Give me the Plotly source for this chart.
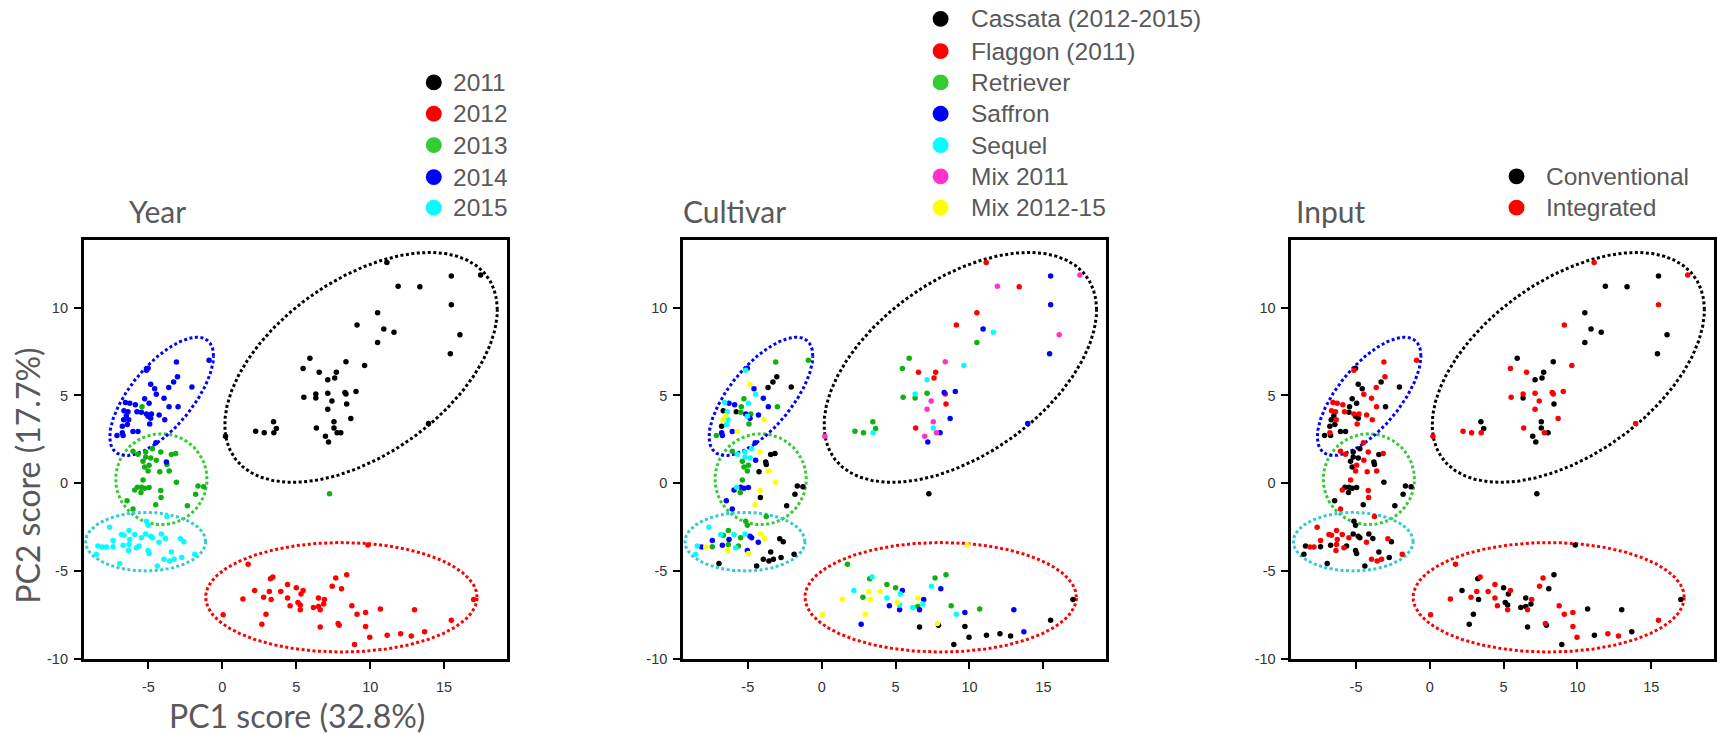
import numpy as np
import plotly.graph_objects as go

W, H = 1717, 734

# ---------------------------------------------------------------------------
# PCA scores (PC1, PC2) with year, cultivar and input system of each sample
# cultivar codes: Cas=Cassata, Fla=Flaggon, Ret=Retriever, Saf=Saffron,
#                 Seq=Sequel, M11=Mix 2011, M12=Mix 2012-15
# input codes:    C=Conventional, I=Integrated
# ---------------------------------------------------------------------------
pc1_2011 = [11.13, 15.49, 17.47, 11.89, 13.36, 15.49, 10.50, 9.11, 10.92, 11.61,
            16.07, 10.50, 15.42, 5.92, 9.62, 5.46, 8.36, 6.55, 7.71, 7.60,
            7.13, 9.04, 5.51, 6.32, 6.32, 7.13, 8.29, 8.36, 7.41, 8.41,
            7.13, 8.69, 3.46, 7.55, 3.65, 2.25, 2.83, 3.48, 6.36, 7.55,
            7.76, 8.01, 6.97, 7.18, 0.21, 13.94]
pc2_2011 = [12.58, 11.81, 11.87, 11.23, 11.19, 10.17, 9.71, 9.02, 8.79, 8.60,
            8.46, 8.02, 7.38, 7.12, 6.71, 6.54, 6.92, 6.33, 6.33, 6.00,
            5.90, 5.23, 4.90, 5.08, 4.85, 5.13, 5.17, 5.08, 4.69, 4.52,
            4.21, 3.69, 3.50, 3.50, 3.12, 2.96, 2.87, 2.87, 3.15, 3.15,
            2.88, 2.88, 2.67, 2.35, 2.67, 3.40]
cv_2011 = ["Fla", "Saf", "M11", "M11", "Fla", "Saf", "Fla", "Fla", "Saf", "Seq",
           "M11", "Ret", "Saf", "Ret", "Seq", "Ret", "M11", "Fla", "Fla", "Fla",
           "Seq", "Saf", "Ret", "Seq", "Ret", "Ret", "Saf", "Fla", "M11", "Fla",
           "M11", "Saf", "Ret", "M11", "Ret", "Ret", "Ret", "Seq", "Fla", "Seq",
           "M11", "Saf", "M11", "Saf", "M11", "Saf"]
in_2011 = ["I", "C", "I", "C", "C", "I", "C", "I", "C", "C",
           "C", "C", "C", "C", "I", "I", "C", "I", "C", "C",
           "C", "I", "I", "I", "C", "I", "I", "I", "I", "C",
           "I", "I", "C", "C", "C", "I", "I", "I", "I", "C",
           "I", "C", "C", "C", "I", "I"]

pc1_2012 = [9.85, 1.74, 3.41, 3.25, 8.41, 7.67, 4.41, 7.43, 5.00, 2.18,
            3.18, 3.95, 5.46, 8.06, 5.32, 1.39, 2.79, 3.30, 4.41, 6.50,
            6.90, 17.00, 5.11, 4.58, 5.27, 6.16, 6.50, 6.85, 5.27, 6.62,
            8.76, 10.69, 13.00, 0.05, 2.95, 9.11, 9.69, 2.67, 6.62, 7.83,
            7.90, 9.69, 15.49, 9.97, 11.15, 12.06, 12.78, 13.68, 8.94]
pc2_2012 = [-3.52, -4.62, -5.35, -5.44, -5.21, -5.40, -5.77, -5.87, -5.96, -6.12,
            -6.17, -6.17, -6.12, -6.02, -6.31, -6.60, -6.50, -6.63, -6.54, -6.54,
            -6.63, -6.63, -6.79, -6.98, -6.94, -7.08, -7.02, -6.88, -7.21, -7.21,
            -6.98, -7.17, -7.21, -7.50, -7.46, -7.46, -7.37, -8.04, -8.19, -8.00,
            -8.10, -8.17, -7.81, -8.77, -8.67, -8.58, -8.71, -8.46, -9.19]
cv_2012 = ["M12", "Ret", "Seq", "Ret", "Ret", "Ret", "Ret", "Seq", "Ret", "Seq",
           "M12", "M12", "Saf", "Saf", "Seq", "M12", "Ret", "M12", "Seq", "M12",
           "Saf", "Cas", "M12", "Saf", "Seq", "Seq", "Ret", "Seq", "Saf", "Saf",
           "Ret", "Ret", "Saf", "M12", "M12", "Seq", "Saf", "Saf", "Cas", "M12",
           "Cas", "Cas", "Cas", "Cas", "Cas", "Cas", "Cas", "Saf", "Cas"]
in_2012 = ["C", "I", "I", "C", "C", "I", "I", "I", "C", "C",
           "I", "I", "I", "C", "C", "I", "I", "C", "I", "C",
           "I", "C", "C", "I", "C", "C", "C", "C", "I", "I",
           "I", "C", "C", "I", "C", "I", "I", "C", "C", "I",
           "C", "I", "I", "I", "C", "I", "I", "C", "C"]

pc1_2013 = [-5.44, -6.05, -4.74, -4.17, -3.16, -5.19, -5.71, -5.19, -4.85, -4.47,
            -5.37, -3.45, -3.75, -4.96, -5.26, -5.03, -4.24, -3.11, -5.37, -5.48,
            -5.75, -5.26, -4.96, -5.93, -4.17, -5.51, -4.15, -1.65, -1.27, -1.81,
            -6.45, -4.51, -2.37, -6.05, -3.60, 7.25]
pc2_2013 = [4.36, 1.82, 1.97, 1.78, 1.69, 1.78, 1.65, 1.50, 1.44, 1.31,
            1.25, 1.63, 1.07, 1.03, 0.93, 0.69, 0.65, 0.05, 0.18, -0.23,
            -0.23, -0.29, -0.25, -0.38, -0.42, -0.53, -0.82, -0.16, -0.20, -0.63,
            -1.00, -1.23, -1.29, -1.47, 0.70, -0.60]
cv_2013 = ["Ret", "Ret", "Seq", "M12", "Cas", "Seq", "Seq", "Seq", "Seq", "Saf",
           "Ret", "Cas", "Cas", "Ret", "Ret", "Ret", "Cas", "M12", "Ret", "Saf",
           "Seq", "Saf", "Saf", "Saf", "M12", "Ret", "Cas", "Cas", "Cas", "Cas",
           "Saf", "M12", "Cas", "Saf", "M12", "Cas"]
in_2013 = ["C", "I", "C", "I", "I", "C", "I", "C", "C", "I",
           "C", "C", "C", "I", "C", "I", "I", "C", "I", "C",
           "C", "C", "C", "I", "I", "C", "I", "C", "C", "C",
           "C", "C", "C", "I", "I", "C"]

pc1_2014 = [-3.11, -0.90, -5.14, -5.03, -3.04, -3.30, -3.63, -4.85, -4.58, -4.47,
            -2.06, -3.95, -5.26, -6.56, -6.27, -5.89, -4.96, -3.61, -3.00, -6.66,
            -6.39, -5.78, -5.48, -5.14, -4.80, -4.85, -5.03, -6.50, -6.68, -6.34,
            -3.90, -4.92, -6.43, -6.77, -6.05, -5.71, -6.77, -6.72, -7.13, -3.79,
            -4.28, -4.50]
pc2_2014 = [6.91, 7.01, 6.44, 6.55, 6.07, 5.77, 5.45, 5.64, 5.39, 5.07,
            5.49, 4.84, 4.82, 4.60, 4.56, 4.47, 4.56, 4.36, 4.36, 4.13,
            4.07, 4.07, 4.04, 3.94, 3.94, 3.70, 3.81, 3.85, 3.62, 3.62,
            3.62, 3.38, 3.34, 3.25, 2.95, 2.95, 2.87, 2.72, 2.72, 1.21,
            3.89, 2.30]
cv_2014 = ["Ret", "Ret", "Seq", "Saf", "Cas", "Cas", "Cas", "M12", "Saf", "Seq",
           "Cas", "Saf", "Ret", "Seq", "Saf", "Saf", "Seq", "Saf", "Ret", "Cas",
           "Seq", "Cas", "Ret", "Saf", "Ret", "Saf", "Seq", "M12", "M12", "Seq",
           "M12", "Ret", "Seq", "Cas", "Saf", "M12", "Saf", "Saf", "Ret", "Cas",
           "Saf", "Saf"]
in_2014 = ["I", "I", "I", "C", "I", "C", "I", "C", "C", "I",
           "C", "I", "C", "I", "I", "I", "C", "I", "C", "I",
           "I", "I", "C", "I", "I", "C", "C", "C", "C", "I",
           "I", "I", "C", "C", "C", "C", "I", "C", "C", "C",
           "I", "I"]

pc1_2015 = [-3.75, -5.14, -5.03, -7.63, -6.32, -6.83, -6.66, -5.93, -5.19, -4.85,
            -4.74, -4.13, -5.48, -6.27, -7.40, -2.84, -2.60, -4.29, -8.42, -8.12,
            -7.85, -7.40, -6.32, -6.72, -5.64, -5.82, -5.03, -4.96, -6.36, -8.53,
            -3.45, -3.95, -3.57, -3.27, -1.87, -6.95, -4.40, -3.86, -2.75]
pc2_2015 = [-1.89, -2.17, -2.40, -2.51, -2.70, -2.92, -2.96, -2.92, -2.89, -3.02,
            -3.11, -2.89, -3.11, -3.21, -3.26, -3.17, -3.34, -3.36, -3.58, -3.64,
            -3.64, -3.62, -3.49, -3.54, -3.58, -3.68, -3.83, -4.01, -3.83, -4.05,
            -3.92, -4.33, -4.43, -4.33, -4.05, -4.58, -4.71, -3.15, -4.23]
cv_2015 = ["Ret", "Ret", "Ret", "Seq", "Ret", "Seq", "Ret", "Seq", "Seq", "Saf",
           "Saf", "M12", "Ret", "Saf", "Saf", "Cas", "Cas", "Saf", "Seq", "Saf",
           "M12", "Ret", "Ret", "Saf", "Ret", "Seq", "Saf", "M12", "M12", "Seq",
           "Cas", "Cas", "Cas", "Cas", "Cas", "Cas", "Cas", "M12", "Cas"]
in_2015 = ["I", "C", "C", "I", "I", "I", "I", "I", "C", "C",
           "C", "C", "I", "I", "I", "I", "C", "I", "C", "I",
           "I", "C", "I", "C", "C", "I", "C", "C", "I", "C",
           "C", "I", "I", "I", "I", "C", "C", "C", "C"]

# group ellipses drawn round each year (centre, half-extent on each axis,
# phase offset between the PC1 and PC2 components in degrees)
ell_year = ["2011", "2012", "2013", "2014", "2015"]
ell_cx = [9.38, 8.05, -4.13, -4.11, -5.19]
ell_cy = [6.60, -6.50, 0.23, 4.95, -3.33]
ell_rx = [9.22, 9.18, 3.09, 3.51, 4.06]
ell_ry = [6.55, 3.12, 2.59, 3.37, 1.67]
ell_phase = [60, 90, 90, 47, 90]
ell_color = ["#000000", "#ff0000", "#33cc33", "#0000ff", "#33cccc"]

# axis ticks
x_ticks = [-5, 0, 5, 10, 15]
x_tick_text = ["-5", "0", "5", "10", "15"]
y_ticks = [-10, -5, 0, 5, 10]
y_tick_text = ["-10", "-5", "0", "5", "10"]
x_range = [-9.37, 19.25]
y_range = [-10.03, 13.88]

# legend entries
year_labels = ["2011", "2012", "2013", "2014", "2015"]
year_point_colors = ["#000000", "#ff0000", "#10b010", "#0000ff", "#00ffff"]
year_key_colors = ["#000000", "#ff0000", "#33cc33", "#0000ff", "#00ffff"]

cv_codes = ["Cas", "Fla", "Ret", "Saf", "Seq", "M11", "M12"]
cv_labels = ["Cassata (2012-2015)", "Flaggon (2011)", "Retriever", "Saffron",
             "Sequel", "Mix 2011", "Mix 2012-15"]
cv_point_colors = ["#000000", "#ff0000", "#10b010", "#0000ff", "#00ffff",
                   "#ff33cc", "#ffff00"]
cv_key_colors = ["#000000", "#ff0000", "#33cc33", "#0000ff", "#00ffff",
                 "#ff33cc", "#ffff00"]

in_codes = ["C", "I"]
in_labels = ["Conventional", "Integrated"]
in_colors = ["#000000", "#ff0000"]

# ---------------------------------------------------------------------------
# assemble the long table
# ---------------------------------------------------------------------------
pc1_by_year = [pc1_2011, pc1_2012, pc1_2013, pc1_2014, pc1_2015]
pc2_by_year = [pc2_2011, pc2_2012, pc2_2013, pc2_2014, pc2_2015]
cv_by_year = [cv_2011, cv_2012, cv_2013, cv_2014, cv_2015]
in_by_year = [in_2011, in_2012, in_2013, in_2014, in_2015]

pc1, pc2, yr, cv, inp = [], [], [], [], []
for label, a, b, c, d in zip(year_labels, pc1_by_year, pc2_by_year, cv_by_year, in_by_year):
    pc1 += a
    pc2 += b
    yr += [label] * len(a)
    cv += c
    inp += d
pc1 = np.array(pc1)
pc2 = np.array(pc2)
yr = np.array(yr)
cv = np.array(cv)
inp = np.array(inp)

fig = go.Figure()

# plot-area boxes in pixels (left, right) and shared top/bottom
panel_x = [(84, 507.5), (684, 1107.5), (1293, 1716)]
panel_top, panel_bottom = 242.3, 666.5
axis_ids = [("x", "y"), ("x2", "y2"), ("x3", "y3")]

t = np.linspace(0, 2 * np.pi, 500)


def add_ellipses(xa, ya):
    for cx, cy, rx, ry, ph, col in zip(ell_cx, ell_cy, ell_rx, ell_ry, ell_phase, ell_color):
        ex = cx + rx * np.cos(t)
        ey = cy + ry * np.cos(t - np.deg2rad(ph))
        fig.add_trace(go.Scatter(
            x=ex, y=ey, mode="lines", xaxis=xa, yaxis=ya, hoverinfo="skip",
            line=dict(color=col, width=3, dash="3px,2.5px"), showlegend=False))


def add_points(xa, ya, groups, codes, colors):
    for code, col in zip(codes, colors):
        m = groups == code
        fig.add_trace(go.Scatter(
            x=pc1[m], y=pc2[m], mode="markers", xaxis=xa, yaxis=ya,
            marker=dict(color=col, size=5.5, line=dict(width=0)),
            showlegend=False))


for xa, ya in axis_ids:
    add_ellipses(xa, ya)

add_points("x", "y", yr, year_labels, year_point_colors)
add_points("x2", "y2", cv, cv_codes, cv_point_colors)
add_points("x3", "y3", inp, in_codes, in_colors)

axis_style = dict(
    showline=True, linecolor="black", linewidth=3, mirror=True,
    ticks="outside", ticklen=7, tickwidth=1.5, tickcolor="black",
    showgrid=False, zeroline=False, fixedrange=True,
    tickfont=dict(family="Liberation Sans, Arial", size=14.5, color="#333333"),
)

layout_axes = {}
for i, ((l, r), (xa, ya)) in enumerate(zip(panel_x, axis_ids)):
    xk = "xaxis" if i == 0 else f"xaxis{i + 1}"
    yk = "yaxis" if i == 0 else f"yaxis{i + 1}"
    layout_axes[xk] = dict(axis_style, domain=[l / W, r / W], range=x_range,
                           tickvals=x_ticks, ticktext=x_tick_text, anchor=ya,
                           ticklabelstandoff=5)
    layout_axes[yk] = dict(axis_style, domain=[1 - panel_bottom / H, 1 - panel_top / H],
                           range=y_range, tickvals=y_ticks, ticktext=y_tick_text,
                           anchor=xa, ticklabelstandoff=3)

title_font = dict(family="Lato, Open Sans, sans-serif", color="#595959")
legend_font = dict(family="Liberation Sans, Arial", size=24.5, color="#595959")

annotations = []
shapes = []


def px_x(v):
    return v / W


def px_y(v):
    return 1 - v / H


# panel headings
for text, left in zip(["Year", "Cultivar", "Input"], [127, 682, 1296]):
    annotations.append(dict(text=text, x=px_x(left), y=px_y(213), xref="paper", yref="paper",
                            xanchor="left", yanchor="middle", showarrow=False,
                            font=dict(title_font, size=30)))

# axis titles
annotations.append(dict(text="PC1 score (32.8%)", x=px_x(297), y=px_y(723), xref="paper",
                        yref="paper", xanchor="center", yanchor="middle", showarrow=False,
                        borderpad=0, font=dict(title_font, size=32)))
annotations.append(dict(text="PC2 score (17.7%)", x=px_x(28), y=px_y(481), xref="paper",
                        yref="paper", xanchor="center", yanchor="middle", showarrow=False,
                        textangle=-90, font=dict(title_font, size=32)))


def add_key(labels, colors, dot_x, text_x, rows):
    for lab, col, ry in zip(labels, colors, rows):
        r = 8
        shapes.append(dict(type="circle", xref="paper", yref="paper",
                           x0=px_x(dot_x - r), x1=px_x(dot_x + r),
                           y0=px_y(ry + r), y1=px_y(ry - r),
                           fillcolor=col, line=dict(width=0)))
        annotations.append(dict(text=lab, x=px_x(text_x), y=px_y(ry), xref="paper",
                                yref="paper", xanchor="left", yanchor="middle",
                                showarrow=False, font=legend_font))


add_key(year_labels, year_key_colors, 434.3, 452, [83.3, 115, 146.7, 179, 210])
add_key(cv_labels, cv_key_colors, 941.7, 970,
        [19, 51.7, 83.3, 115, 146.7, 178.3, 210])
add_key(in_labels, in_colors, 1518.3, 1546, [178.3, 210])

fig.update_layout(
    width=W, height=H,
    margin=dict(l=0, r=0, t=0, b=0),
    paper_bgcolor="white", plot_bgcolor="white",
    showlegend=False,
    annotations=annotations,
    shapes=shapes,
    **layout_axes,
)

fig.write_html("out.html", config=dict(displayModeBar=False))
